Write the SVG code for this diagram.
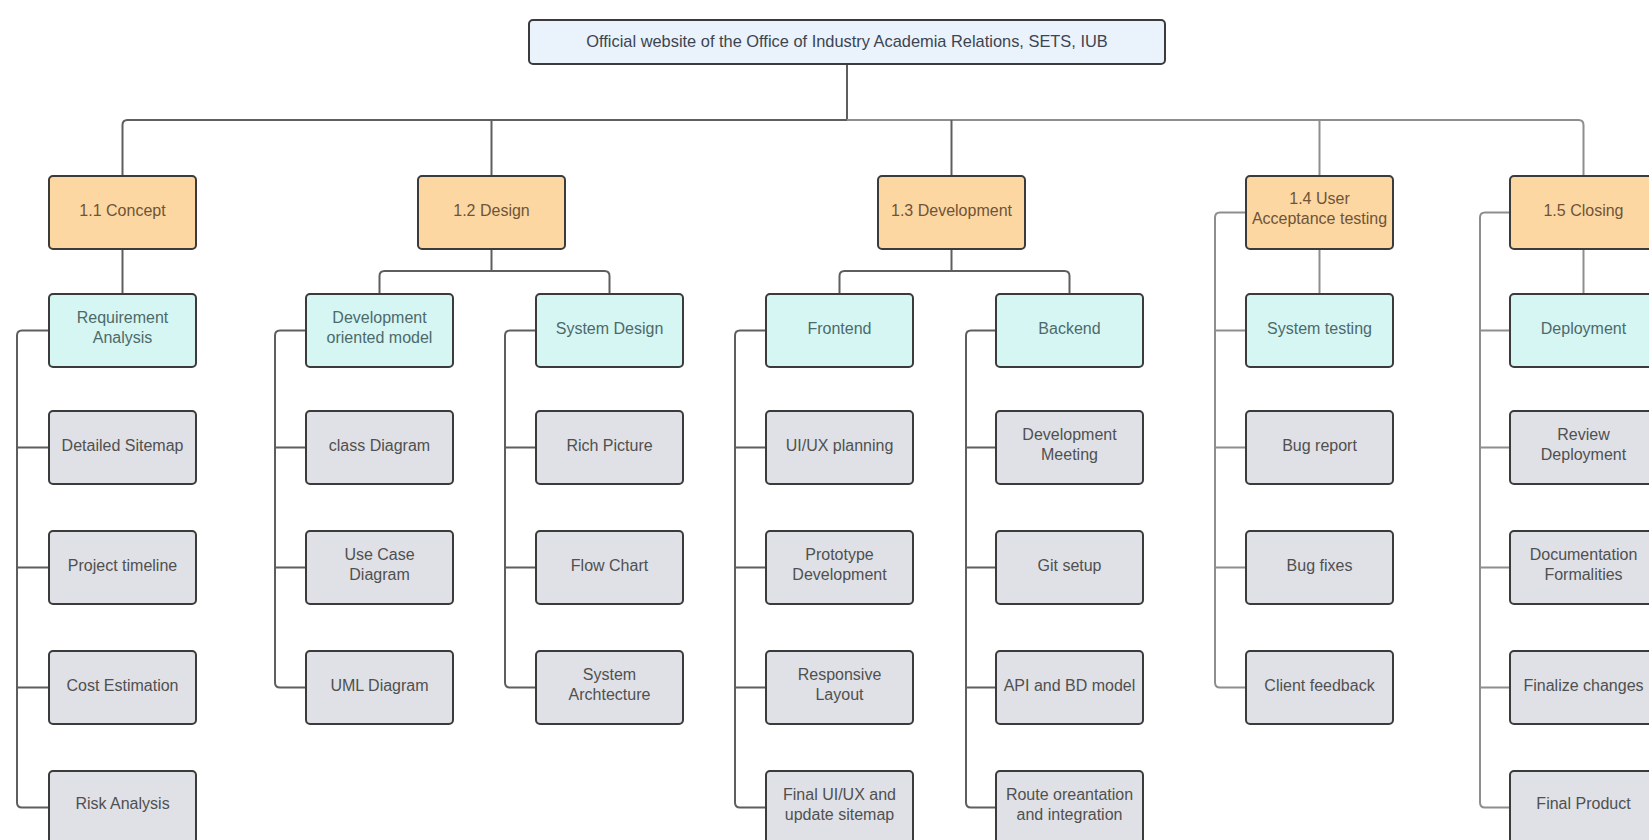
<svg xmlns="http://www.w3.org/2000/svg" width="1649" height="840" viewBox="0 0 1649 840">
<style>
  text { font-family: "Liberation Sans", Arial, sans-serif; font-size: 16px; text-anchor: middle; }
  .box { stroke: #3b3b3b; stroke-width: 2; }
  .root rect { fill: #eaf2fc; }
  .root text { fill: #3d4450; font-size: 16.4px; }
  .l1 rect { fill: #fdd7a2; }
  .l1 text { fill: #6e5438; }
  .l2 rect { fill: #d6f6f4; }
  .l2 text { fill: #4d6a6a; }
  .leaf rect { fill: #dfe1e6; }
  .leaf text { fill: #505050; }
  .conn path { fill: none; stroke: #5e5e5e; stroke-width: 2; }
  .conn .lt { stroke: #8e8e8e; }
</style>

<g id="connectors" class="conn">
  <path d="M847,64 V120"/>
  <path d="M122.5,176 V125 Q122.5,120 127.5,120 H847"/>
  <path class="lt" d="M847,120 H1578.5 Q1583.5,120 1583.5,125 V176"/>
  <path d="M491.5,120 V176"/>
  <path d="M951.5,120 V176"/>
  <path class="lt" d="M1319.5,120 V176"/>

  <path d="M122.5,249 V294"/>
  <path d="M491.5,249 V271"/>
  <path d="M379.5,294 V276 Q379.5,271 384.5,271 H604.5 Q609.5,271 609.5,276 V294"/>
  <path d="M951.5,249 V271"/>
  <path d="M839.5,294 V276 Q839.5,271 844.5,271 H1064.5 Q1069.5,271 1069.5,276 V294"/>
  <path class="lt" d="M1319.5,249 V294"/>
  <path class="lt" d="M1583.5,249 V294"/>

  <path class="lt" d="M1246,212.5 H1220 Q1215,212.5 1215,217.5 V682.5 Q1215,687.5 1220,687.5 H1246"/>
  <path class="lt" d="M1215,330.5 H1246 M1215,447.5 H1246 M1215,567.5 H1246"/>
  <path class="lt" d="M1510,212.5 H1485 Q1480,212.5 1480,217.5 V802.5 Q1480,807.5 1485,807.5 H1510"/>
  <path class="lt" d="M1480,330.5 H1510 M1480,447.5 H1510 M1480,567.5 H1510 M1480,687.5 H1510"/>

  <path d="M49,330.5 H22 Q17,330.5 17,335.5 V802.5 Q17,807.5 22,807.5 H49"/>
  <path d="M17,447.5 H49 M17,567.5 H49 M17,687.5 H49"/>
  <path d="M306,330.5 H280 Q275,330.5 275,335.5 V682.5 Q275,687.5 280,687.5 H306"/>
  <path d="M275,447.5 H306 M275,567.5 H306"/>
  <path d="M536,330.5 H510 Q505,330.5 505,335.5 V682.5 Q505,687.5 510,687.5 H536"/>
  <path d="M505,447.5 H536 M505,567.5 H536"/>
  <path d="M766,330.5 H740 Q735,330.5 735,335.5 V802.5 Q735,807.5 740,807.5 H766"/>
  <path d="M735,447.5 H766 M735,567.5 H766 M735,687.5 H766"/>
  <path d="M996,330.5 H971 Q966,330.5 966,335.5 V802.5 Q966,807.5 971,807.5 H996"/>
  <path d="M966,447.5 H996 M966,567.5 H996 M966,687.5 H996"/>
</g>

<g id="root" class="root"><rect class="box" x="529" y="20" width="636" height="44" rx="4"/><text x="847" y="47">Official website of the Office of Industry Academia Relations, SETS, IUB</text></g>

<g id="concept" class="l1"><rect class="box" x="49" y="176" width="147" height="73" rx="4"/><text x="122.5" y="216">1.1 Concept</text></g>
<g id="design" class="l1"><rect class="box" x="418" y="176" width="147" height="73" rx="4"/><text x="491.5" y="216">1.2 Design</text></g>
<g id="development" class="l1"><rect class="box" x="878" y="176" width="147" height="73" rx="4"/><text x="951.5" y="216">1.3 Development</text></g>
<g id="uat" class="l1"><rect class="box" x="1246" y="176" width="147" height="73" rx="4"/><text x="1319.5" y="204">1.4 User</text><text x="1319.5" y="224">Acceptance testing</text></g>
<g id="closing" class="l1"><rect class="box" x="1510" y="176" width="147" height="73" rx="4"/><text x="1583.5" y="216">1.5 Closing</text></g>

<g id="requirement-analysis" class="l2"><rect class="box" x="49" y="294" width="147" height="73" rx="4"/><text x="122.5" y="323">Requirement</text><text x="122.5" y="343">Analysis</text></g>
<g id="development-oriented-model" class="l2"><rect class="box" x="306" y="294" width="147" height="73" rx="4"/><text x="379.5" y="323">Development</text><text x="379.5" y="343">oriented model</text></g>
<g id="system-design" class="l2"><rect class="box" x="536" y="294" width="147" height="73" rx="4"/><text x="609.5" y="334">System Design</text></g>
<g id="frontend" class="l2"><rect class="box" x="766" y="294" width="147" height="73" rx="4"/><text x="839.5" y="334">Frontend</text></g>
<g id="backend" class="l2"><rect class="box" x="996" y="294" width="147" height="73" rx="4"/><text x="1069.5" y="334">Backend</text></g>
<g id="system-testing" class="l2"><rect class="box" x="1246" y="294" width="147" height="73" rx="4"/><text x="1319.5" y="334">System testing</text></g>
<g id="deployment" class="l2"><rect class="box" x="1510" y="294" width="147" height="73" rx="4"/><text x="1583.5" y="334">Deployment</text></g>

<g id="detailed-sitemap" class="leaf"><rect class="box" x="49" y="411" width="147" height="73" rx="4"/><text x="122.5" y="451">Detailed Sitemap</text></g>
<g id="project-timeline" class="leaf"><rect class="box" x="49" y="531" width="147" height="73" rx="4"/><text x="122.5" y="571">Project timeline</text></g>
<g id="cost-estimation" class="leaf"><rect class="box" x="49" y="651" width="147" height="73" rx="4"/><text x="122.5" y="691">Cost Estimation</text></g>
<g id="risk-analysis" class="leaf"><rect class="box" x="49" y="771" width="147" height="73" rx="4"/><text x="122.5" y="809">Risk Analysis</text></g>

<g id="class-diagram" class="leaf"><rect class="box" x="306" y="411" width="147" height="73" rx="4"/><text x="379.5" y="451">class Diagram</text></g>
<g id="use-case-diagram" class="leaf"><rect class="box" x="306" y="531" width="147" height="73" rx="4"/><text x="379.5" y="560">Use Case</text><text x="379.5" y="580">Diagram</text></g>
<g id="uml-diagram" class="leaf"><rect class="box" x="306" y="651" width="147" height="73" rx="4"/><text x="379.5" y="691">UML Diagram</text></g>

<g id="rich-picture" class="leaf"><rect class="box" x="536" y="411" width="147" height="73" rx="4"/><text x="609.5" y="451">Rich Picture</text></g>
<g id="flow-chart" class="leaf"><rect class="box" x="536" y="531" width="147" height="73" rx="4"/><text x="609.5" y="571">Flow Chart</text></g>
<g id="system-architecture" class="leaf"><rect class="box" x="536" y="651" width="147" height="73" rx="4"/><text x="609.5" y="680">System</text><text x="609.5" y="700">Archtecture</text></g>

<g id="uiux-planning" class="leaf"><rect class="box" x="766" y="411" width="147" height="73" rx="4"/><text x="839.5" y="451">UI/UX planning</text></g>
<g id="prototype-development" class="leaf"><rect class="box" x="766" y="531" width="147" height="73" rx="4"/><text x="839.5" y="560">Prototype</text><text x="839.5" y="580">Development</text></g>
<g id="responsive-layout" class="leaf"><rect class="box" x="766" y="651" width="147" height="73" rx="4"/><text x="839.5" y="680">Responsive</text><text x="839.5" y="700">Layout</text></g>
<g id="final-uiux" class="leaf"><rect class="box" x="766" y="771" width="147" height="73" rx="4"/><text x="839.5" y="800">Final UI/UX and</text><text x="839.5" y="820">update sitemap</text></g>

<g id="development-meeting" class="leaf"><rect class="box" x="996" y="411" width="147" height="73" rx="4"/><text x="1069.5" y="440">Development</text><text x="1069.5" y="460">Meeting</text></g>
<g id="git-setup" class="leaf"><rect class="box" x="996" y="531" width="147" height="73" rx="4"/><text x="1069.5" y="571">Git setup</text></g>
<g id="api-bd-model" class="leaf"><rect class="box" x="996" y="651" width="147" height="73" rx="4"/><text x="1069.5" y="691">API and BD model</text></g>
<g id="route-orientation" class="leaf"><rect class="box" x="996" y="771" width="147" height="73" rx="4"/><text x="1069.5" y="800">Route oreantation</text><text x="1069.5" y="820">and integration</text></g>

<g id="bug-report" class="leaf"><rect class="box" x="1246" y="411" width="147" height="73" rx="4"/><text x="1319.5" y="451">Bug report</text></g>
<g id="bug-fixes" class="leaf"><rect class="box" x="1246" y="531" width="147" height="73" rx="4"/><text x="1319.5" y="571">Bug fixes</text></g>
<g id="client-feedback" class="leaf"><rect class="box" x="1246" y="651" width="147" height="73" rx="4"/><text x="1319.5" y="691">Client feedback</text></g>

<g id="review-deployment" class="leaf"><rect class="box" x="1510" y="411" width="147" height="73" rx="4"/><text x="1583.5" y="440">Review</text><text x="1583.5" y="460">Deployment</text></g>
<g id="documentation-formalities" class="leaf"><rect class="box" x="1510" y="531" width="147" height="73" rx="4"/><text x="1583.5" y="560">Documentation</text><text x="1583.5" y="580">Formalities</text></g>
<g id="finalize-changes" class="leaf"><rect class="box" x="1510" y="651" width="147" height="73" rx="4"/><text x="1583.5" y="691">Finalize changes</text></g>
<g id="final-product" class="leaf"><rect class="box" x="1510" y="771" width="147" height="73" rx="4"/><text x="1583.5" y="809">Final Product</text></g>
</svg>
